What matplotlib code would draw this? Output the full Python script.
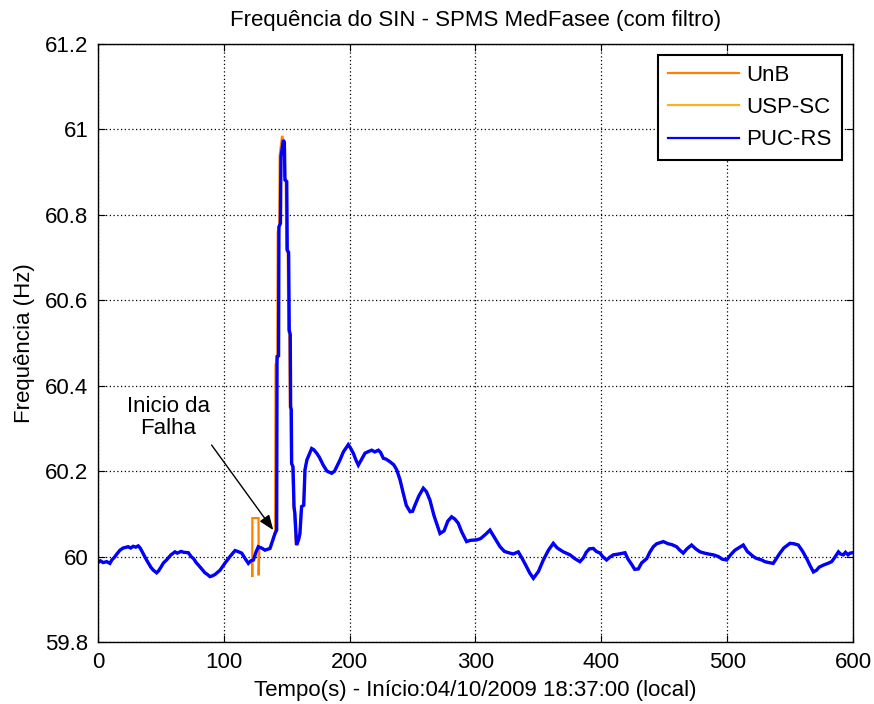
import matplotlib
matplotlib.use("Agg")
import matplotlib.pyplot as plt

plt.rcParams['font.family'] = ['Liberation Sans', 'DejaVu Sans']

# ---- shared data (before the fault) ----
pre_t = [0, 2, 4, 7, 9.5, 11, 13, 15, 17.5, 20, 24, 26, 28, 30, 32, 33.5, 35, 38.6, 42, 44, 46.6, 48,
         50, 52, 54.5, 58, 61.2, 63, 66, 68, 71.8, 74, 76, 78, 81, 85, 87, 89, 91, 93, 97, 101,
         104.9, 108.9, 111, 114.2, 117, 119.5]
pre_f = [59.986, 59.99, 59.986, 59.988, 59.984, 59.992, 59.998, 60.006, 60.015, 60.02, 60.023, 60.02,
         60.024, 60.022, 60.025, 60.02, 60.012, 59.992, 59.975, 59.968, 59.962, 59.966, 59.975, 59.985,
         59.992, 60.004, 60.011, 60.008, 60.012, 60.01, 60.009, 60.0, 59.995, 59.986, 59.976, 59.962,
         59.958, 59.953, 59.955, 59.958, 59.968, 59.985, 60.0, 60.014, 60.012, 60.008, 59.995, 59.984]

# ---- shared data (after the fault) ----
post_t = [169.8, 171.5, 173.8, 176, 179, 182, 185.7, 188, 192.3, 195, 198.9, 200.5, 202.9, 205,
          206.9, 209, 212.2, 215, 217.5, 220, 222.8, 224.5, 226.8, 229, 232, 235, 237.4, 240,
          242.6, 245, 248, 250, 252, 255, 258.5, 261, 263.8, 267, 271.8, 275, 278, 281, 283.5,
          286.3, 289, 292.9, 296, 300.9, 304, 308, 311.5, 315, 319.5, 323, 327.4, 330, 334, 337,
          340.6, 343, 346, 350, 353.9, 358, 361.8, 365, 369.8, 372, 375.1, 379, 383, 386, 388,
          390.5, 393.6, 396, 399, 401, 404.2, 406.5, 409.5, 414, 418.8, 421, 424, 426.5, 429.4,
          432, 436, 438.5, 441.3, 444, 449.3, 453, 456, 459.8, 462, 465.1, 468, 471.7, 475, 478.4,
          482, 485, 489, 493, 496, 499.6, 503, 506.2, 509, 512.8, 516, 520.8, 523, 527.4, 530,
          533, 536.6, 539, 541.9, 545, 549.9, 553, 556.5, 560, 563.2, 566, 568.5, 571, 573,
          576.4, 580, 583, 585.5, 588.4, 590, 592.3, 594, 596, 597.6, 600]
post_f = [60.253, 60.25, 60.242, 60.232, 60.214, 60.2, 60.195, 60.2, 60.226, 60.245, 60.262, 60.255,
          60.242, 60.226, 60.214, 60.225, 60.242, 60.246, 60.249, 60.245, 60.249, 60.244, 60.23,
          60.228, 60.222, 60.215, 60.203, 60.18, 60.148, 60.12, 60.105, 60.106, 60.121, 60.142,
          60.16, 60.152, 60.132, 60.096, 60.054, 60.06, 60.083, 60.093, 60.088, 60.078, 60.058,
          60.035, 60.038, 60.039, 60.042, 60.052, 60.062, 60.045, 60.023, 60.012, 60.008, 60.006,
          60.011, 59.996, 59.976, 59.962, 59.949, 59.965, 59.992, 60.015, 60.031, 60.02, 60.011,
          60.008, 60.004, 59.995, 59.988, 59.998, 60.01, 60.018, 60.019, 60.012, 60.008, 60.0,
          59.992, 59.998, 60.004, 60.006, 60.009, 59.995, 59.982, 59.97, 59.971, 59.985, 59.995,
          60.01, 60.023, 60.03, 60.035, 60.03, 60.028, 60.023, 60.016, 60.008, 60.018, 60.027,
          60.018, 60.011, 60.008, 60.006, 60.004, 60.0, 59.994, 59.992, 60.005, 60.015, 60.02,
          60.027, 60.012, 60.0, 59.996, 59.992, 59.988, 59.986, 59.984, 59.995, 60.008, 60.02,
          60.031, 60.03, 60.027, 60.012, 59.995, 59.978, 59.964, 59.968, 59.975, 59.98, 59.984,
          59.988, 59.998, 60.011, 60.006, 60.004, 60.01, 60.004, 60.008, 60.009]

# ---- fault segments per station ----
puc_t = [121.5, 123.5, 125.5, 127.4, 130, 132.7, 136.7, 140.7, 142, 142.3, 143.5, 143.8, 145, 145.4,
         147.3, 148.1, 148.6, 150, 150.4, 151.5, 152, 152.8, 153.1, 153.6, 153.9, 155, 155.8, 156.5,
         157.8, 159.5, 160.5, 161.8, 163.5, 164.5, 166]
puc_f = [59.99, 59.992, 60.01, 60.023, 60.02, 60.015, 60.019, 60.054, 60.062, 60.468, 60.47, 60.772,
         60.78, 60.936, 60.975, 60.97, 60.882, 60.878, 60.718, 60.712, 60.53, 60.52, 60.35, 60.345,
         60.218, 60.21, 60.117, 60.1, 60.027, 60.04, 60.054, 60.117, 60.12, 60.203, 60.226]

unb_t = [121.5, 122.5, 122.6, 122.7, 123.2, 127.6, 127.7, 128.2, 130, 132.7, 136.7, 139.8, 140.8, 141.1,
         142.5, 142.8, 144, 144.4, 146.3, 147.3, 147.8, 149.2, 149.6, 150.8, 151.2, 152, 152.4, 153.1,
         153.4, 154.5, 155.3, 156, 157.3, 159, 160.3, 161.5, 163.3, 164.3, 166]
unb_f = [59.99, 59.99, 59.952, 60.09, 60.09, 60.09, 59.956, 60.02, 60.02, 60.015, 60.019, 60.05, 60.06,
         60.45, 60.46, 60.76, 60.77, 60.94, 60.985, 60.975, 60.89, 60.885, 60.72, 60.71, 60.53, 60.52,
         60.35, 60.345, 60.22, 60.21, 60.12, 60.1, 60.027, 60.04, 60.054, 60.117, 60.12, 60.203, 60.226]

usp_t = [121.5, 123.5, 125.5, 127.4, 130, 132.7, 136.7, 140.7, 141.6, 141.9, 143.2, 143.5, 144.7, 145.1,
         147, 147.9, 148.4, 149.8, 150.2, 151.3, 151.8, 152.6, 152.9, 153.4, 153.7, 154.8, 155.6, 156.3,
         157.6, 159.3, 160.4, 161.7, 163.4, 164.4, 166]
usp_f = [59.99, 59.992, 60.01, 60.023, 60.02, 60.015, 60.019, 60.054, 60.062, 60.46, 60.465, 60.77,
         60.775, 60.93, 60.972, 60.968, 60.88, 60.876, 60.715, 60.71, 60.528, 60.518, 60.348, 60.343,
         60.216, 60.208, 60.115, 60.1, 60.027, 60.04, 60.054, 60.117, 60.12, 60.203, 60.226]

series = [
    ("UnB", unb_t, unb_f, "#FF7F00", 1.6),
    ("USP-SC", usp_t, usp_f, "#FFB020", 1.6),
    ("PUC-RS", puc_t, puc_f, "#0000FF", 2.4),
]

xticks = [0, 100, 200, 300, 400, 500, 600]
yticks = [59.8, 60.0, 60.2, 60.4, 60.6, 60.8, 61.0, 61.2]
ytick_labels = ["59.8", "60", "60.2", "60.4", "60.6", "60.8", "61", "61.2"]

FS = 16

fig = plt.figure(figsize=(8.74, 7.04), dpi=100)
ax = fig.add_axes([0.1121, 0.0881, 0.8639, 0.8494])

for name, st, sf, color, lw in series:
    t = pre_t + st + post_t
    f = pre_f + sf + post_f
    ax.plot(t, f, color=color, lw=lw, label=name, solid_joinstyle='miter')

ax.set_xlim(0, 600)
ax.set_ylim(59.8, 61.2)
ax.set_xticks(xticks)
ax.set_yticks(yticks)
ax.set_yticklabels(ytick_labels)
ax.tick_params(direction='in', top=True, right=True, labelsize=FS, length=5, pad=7)
ax.grid(True, color='black', linestyle=(0, (1, 2)), linewidth=0.9)
for s in ax.spines.values():
    s.set_linewidth(1.0)

ax.set_title("Frequência do SIN - SPMS MedFasee (com filtro)", fontsize=FS, pad=13)
ax.set_xlabel("Tempo(s) - Início:04/10/2009 18:37:00 (local)", fontsize=FS, labelpad=5)
ax.set_ylabel("Frequência (Hz)", fontsize=FS, labelpad=7)

ax.text(56, 60.325, "Inicio da\nFalha", ha='center', va='center', fontsize=FS, linespacing=1.05)
ax.annotate("", xy=(139.3, 60.062), xytext=(90.3, 60.261),
            arrowprops=dict(arrowstyle='-|>,head_length=0.9,head_width=0.35', color='black', lw=1.0,
                            shrinkA=0, shrinkB=0))

leg = ax.legend(loc='upper right', fontsize=FS, frameon=True, fancybox=False,
                edgecolor='black', borderaxespad=0.5, handlelength=3.2, labelspacing=0.5,
                borderpad=0.45, handletextpad=0.35)
leg.get_frame().set_linewidth(1.5)
leg.get_frame().set_alpha(1)
for line in leg.get_lines():
    line.set_linewidth(1.6)

fig.savefig("out.png", dpi=100)
